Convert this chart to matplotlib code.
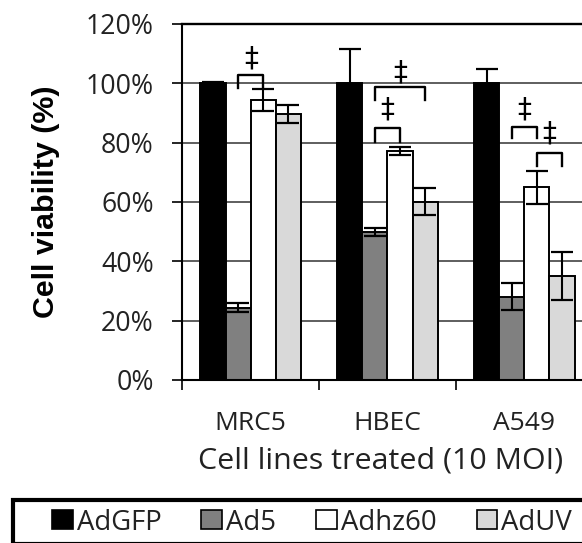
import numpy as np
import matplotlib
matplotlib.use("Agg")
import matplotlib.pyplot as plt
from matplotlib.patches import Patch, Rectangle

# data
cell_lines = ["MRC5", "HBEC", "A549"]
series = ["AdGFP", "Ad5", "Adhz60", "AdUV"]
adgfp = [100.0, 100.0, 100.0]
adgfp_err = [0.3, 11.7, 5.0]
ad5 = [24.4, 50.0, 28.1]
ad5_err = [1.5, 1.3, 4.5]
adhz60 = [94.4, 77.2, 64.9]
adhz60_err = [3.7, 1.5, 5.6]
aduv = [89.7, 60.1, 35.0]
aduv_err = [3.0, 4.6, 8.1]

# significance marks: group, bar a, bar b, bracket top, leg end, dagger y
sig_group = [0, 1, 1, 2, 2]
sig_a = [1, 1, 1, 1, 2]
sig_b = [2, 3, 2, 2, 3]
sig_top = [102.9, 98.6, 85.0, 85.4, 76.6]
sig_leg = [98.5, 94.4, 80.3, 81.5, 72.2]
sig_mark = [108.5, 103.8, 91.2, 91.2, 83.0]

values = [adgfp, ad5, adhz60, aduv]
errors = [adgfp_err, ad5_err, adhz60_err, aduv_err]
colors = ["black", "#808080", "white", "#d9d9d9"]

plt.rcParams['font.family'] = ['Open Sans', 'DejaVu Sans']

fig = plt.figure(figsize=(5.82, 5.43), dpi=100)
ax = fig.add_axes([182.3 / 582, 1 - 380 / 543, 410.4 / 582, 356 / 543])

w = 0.184
x = np.arange(len(cell_lines)) + 0.5
for i in range(4):
    xs = x + (i - 1.5) * w
    ax.bar(xs, values[i], w, color=colors[i], edgecolor="black", linewidth=1.4, zorder=2)
    ax.errorbar(xs, values[i], yerr=errors[i], fmt="none", ecolor="black",
                elinewidth=1.5, capsize=8, capthick=1.6, zorder=3)

for k in range(len(sig_group)):
    xa = x[sig_group[k]] + (sig_a[k] - 1.5) * w
    xb = x[sig_group[k]] + (sig_b[k] - 1.5) * w
    ax.plot([xa, xa, xb, xb], [sig_leg[k], sig_top[k], sig_top[k], sig_leg[k]],
            color="black", lw=1.7, zorder=4, clip_on=False)
    ax.text((xa + xb) / 2, sig_mark[k], "\u2021", ha="center", va="center",
            fontsize=20, family="DejaVu Sans", zorder=4)

ax.set_xlim(0, 3)
ax.set_ylim(0, 120)
ax.set_yticks(np.arange(0, 121, 20))
ylabs = ax.set_yticklabels([f"{v}%" for v in range(0, 121, 20)], fontsize=18,
                           color="#222222")
ax.set_xticks([0, 1, 2, 3])
ax.set_xticklabels([])
ax.set_xticks(x, minor=True)
xlabs = ax.set_xticklabels(cell_lines, minor=True, fontsize=18, color="#222222")
ax.tick_params(axis="x", which="major", length=7, width=1.2, direction="out")
ax.tick_params(axis="x", which="minor", length=0, pad=22)
ax.tick_params(axis="y", length=7.5, width=1.2, pad=13)
ax.grid(axis="y", color="#333333", linewidth=1.1)
ax.set_axisbelow(True)
for s in ["left", "bottom"]:
    ax.spines[s].set_linewidth(1.5)
ax.spines["top"].set_linewidth(1.7)
ax.spines["right"].set_visible(False)

ylab = ax.set_ylabel("Cell viability (%)", fontsize=21.5, fontweight="bold",
                     family="Liberation Sans")
ax.yaxis.set_label_coords(60 / 582, 1 - 201.5 / 543, transform=fig.transFigure)
xlab = fig.text(381 / 582, 1 - 461 / 543, "Cell lines treated (10 MOI)",
                ha="center", va="center", fontsize=21, color="#222222")

handles = [Patch(facecolor=c, edgecolor="black", linewidth=1.2) for c in colors]


def make_legend(size):
    return fig.legend(handles, series, loc="center left", ncol=4, frameon=False,
                      bbox_to_anchor=(52 / 582, 1 - 522.5 / 543), borderpad=0,
                      borderaxespad=0, fontsize=size, handlelength=0.75,
                      handleheight=0.68, handletextpad=0.15, columnspacing=1.45,
                      labelcolor="#222222")


leg = make_legend(18)
fig.patches.append(Rectangle((13.3 / 582, 1 - 543.5 / 543), 1.0, 43.5 / 543,
                             transform=fig.transFigure, fill=False,
                             edgecolor="black", linewidth=3))

# match text widths to the reference (pixels)
fig.canvas.draw()
r = fig.canvas.get_renderer()


def fit(t, target, vertical=False):
    bb = t.get_window_extent(r)
    size = bb.height if vertical else bb.width
    return t.get_fontsize() * target / size


s = fit(ylabs[-1], 68)
for t in ylabs:
    t.set_fontsize(s)
s = fit(xlabs[0], 71.7)
for t in xlabs:
    t.set_fontsize(s)
xlab.set_fontsize(fit(xlab, 365))
ylab.set_fontsize(fit(ylab, 233, vertical=True))
s = fit(leg.get_texts()[0], 85)
leg.remove()
leg = make_legend(s)

fig.savefig("out.png", dpi=100)
